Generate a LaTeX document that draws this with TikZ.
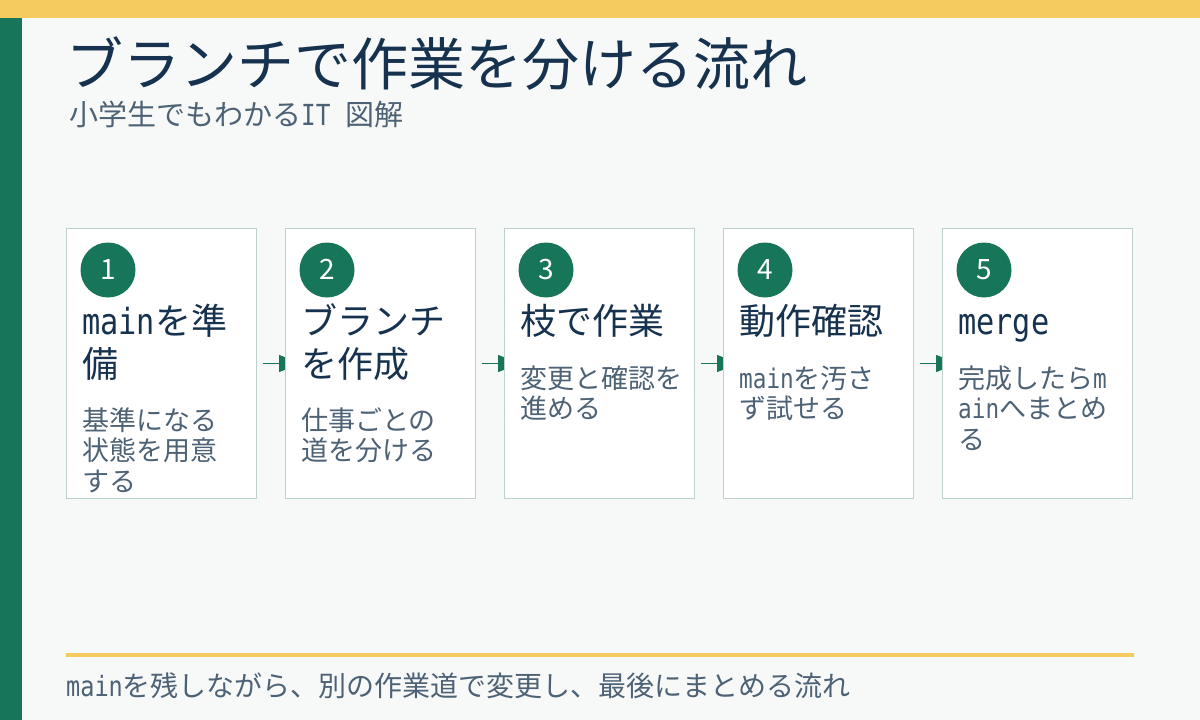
\documentclass[tikz,border=0pt]{standalone}
\usepackage{fontspec}
\setmainfont{Noto Sans CJK JP}
\newfontfamily\mono[FakeStretch=0.84]{DejaVu Sans Mono}
\usetikzlibrary{arrows.meta}
\pgfdeclarelayer{back}
\pgfdeclarelayer{mid}
\pgfsetlayers{back,mid,main}
\definecolor{bgc}{HTML}{F7F9F8}
\definecolor{yel}{HTML}{F5CA5E}
\definecolor{grn}{HTML}{17765A}
\definecolor{navy}{HTML}{16324E}
\definecolor{slate}{HTML}{4D6275}
\definecolor{bord}{HTML}{BCD2CB}
\begin{document}
\begin{tikzpicture}[x=1pt,y=-1pt,
  card/.style={draw=bord,line width=1pt,fill=white,minimum width=190pt,minimum height=270pt,inner sep=0pt,anchor=north west},
  numc/.style={circle,fill=grn,minimum size=55pt,inner sep=0pt,text=white,font=\fontsize{28}{32}\selectfont},
  head/.style={anchor=base west,inner sep=0pt,align=left,text=navy,font=\fontsize{36}{43}\selectfont},
  desc/.style={anchor=base west,inner sep=0pt,align=left,text=slate,font=\fontsize{27}{30.5}\selectfont},
  flow/.style={draw=grn,line width=1.3pt,-{Triangle[length=22pt,width=17pt]}}]
\useasboundingbox (0,0) rectangle (1200,720);
\begin{pgfonlayer}{back}
\fill[bgc] (0,0) rectangle (1200,720);
\fill[yel] (0,0) rectangle (1200,18);
\fill[grn] (0,18) rectangle (22,720);
\end{pgfonlayer}
\node[anchor=base west,inner sep=0pt,text=navy,font=\fontsize{57}{62}\selectfont] (title) at (66,85) {ブランチで作業を分ける流れ};
\node[anchor=base west,inner sep=0pt,text=slate,font=\fontsize{29}{33}\selectfont] (sub) at (69,125) {小学生でもわかる{\mono IT\ }図解};
\foreach \i/\x in {1/66,2/285,3/504,4/723,5/942}{
  \node[card] (b\i) at (\x,228) {};
  \node[numc] (n\i) at (\x+42,270) {\raisebox{1.5pt}{\i}};
}
\node[head] (h1) at (82,377) {{\mono main}を準\\備};
\node[head] (h2) at (301,377) {ブランチ\\を作成};
\node[head] (h3) at (520,334) {枝で作業};
\node[head] (h4) at (739,334) {動作確認};
\node[head] (h5) at (958,334) {\mono merge};
\node[desc] (d1) at (82,491) {基準になる\\状態を用意\\する};
\node[desc] (d2) at (301,460.5) {仕事ごとの\\道を分ける};
\node[desc] (d3) at (520,418.5) {変更と確認を\\進める};
\node[desc] (d4) at (739,418.5) {{\mono main}を汚さ\\ず試せる};
\node[desc] (d5) at (958,449) {完成したら{\mono m}\\{\mono ain}へまとめ\\る};
\begin{pgfonlayer}{mid}
\foreach \a/\b in {1/2,2/3,3/4,4/5}{
  \draw[flow] ([xshift=6pt]b\a.east) -- ([xshift=16pt]b\b.west);
}
\end{pgfonlayer}
\draw[yel,line width=4pt] (66,655) -- (1134,655);
\node[anchor=base west,inner sep=0pt,text=slate,font=\fontsize{28}{32}\selectfont] (foot) at (66,696) {{\mono main}を残しながら、別の作業道で変更し、最後にまとめる流れ};
\end{tikzpicture}
\end{document}
